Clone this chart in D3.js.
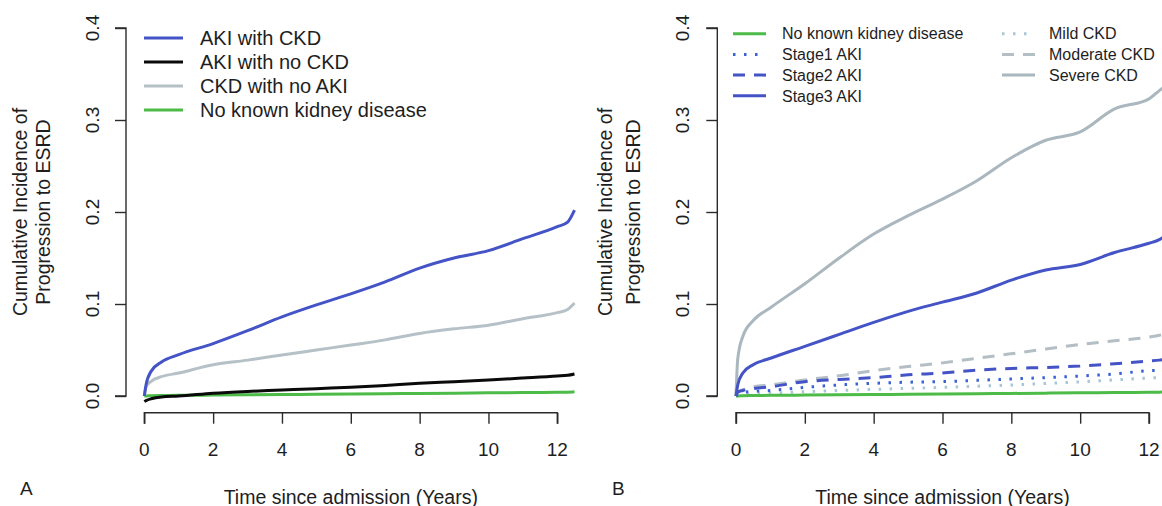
<!DOCTYPE html>
<html>
<head>
<meta charset="utf-8">
<script src="https://cdn.jsdelivr.net/npm/d3@7"></script>
<style>
  html, body { margin: 0; padding: 0; background: #fff; }
  svg { display: block; font-family: "Liberation Sans", Arial, Helvetica, sans-serif; }
</style>
</head>
<body>
<svg id="chart" width="1162" height="506"></svg>
<script>
// ---------- data ----------
const years = [0, 0.05, 0.2, 0.5, 1, 2, 3, 4, 5, 6, 7, 8, 9, 10, 11, 12, 12.3, 12.5];

// Panel A
const akiWithCkd = [0, 0.012, 0.027, 0.037, 0.045, 0.057, 0.071, 0.086, 0.099, 0.111, 0.124, 0.139, 0.150, 0.158, 0.171, 0.184, 0.189, 0.202];
const akiNoCkd   = [-0.006, -0.005, -0.003, -0.001, 0.000, 0.003, 0.005, 0.0065, 0.008, 0.0094, 0.0115, 0.0138, 0.0155, 0.0174, 0.0195, 0.0217, 0.0225, 0.024];
const ckdNoAki   = [0, 0.010, 0.016, 0.021, 0.025, 0.034, 0.039, 0.0446, 0.050, 0.0554, 0.061, 0.068, 0.073, 0.077, 0.084, 0.0906, 0.094, 0.101];
const noKidneyA  = [0, 0, 0.0003, 0.0005, 0.0007, 0.001, 0.0013, 0.0016, 0.0019, 0.0022, 0.0025, 0.0028, 0.0031, 0.0034, 0.0037, 0.004, 0.0042, 0.0045];

// Panel B
const noKidneyB   = [0, 0, 0.0003, 0.0005, 0.0007, 0.001, 0.0013, 0.0016, 0.0019, 0.0022, 0.0025, 0.0028, 0.0031, 0.0034, 0.0037, 0.004, 0.0042, 0.0045];
const stage1Aki   = [0, 0.002, 0.004, 0.005, 0.006, 0.0094, 0.012, 0.0138, 0.015, 0.0156, 0.017, 0.0185, 0.020, 0.0217, 0.024, 0.0275, 0.028, 0.029];
const stage2Aki   = [0, 0.004, 0.006, 0.008, 0.010, 0.0156, 0.018, 0.020, 0.023, 0.025, 0.028, 0.030, 0.031, 0.0326, 0.035, 0.038, 0.039, 0.040];
const stage3Aki   = [0, 0.012, 0.025, 0.034, 0.041, 0.054, 0.067, 0.080, 0.092, 0.102, 0.112, 0.126, 0.137, 0.143, 0.156, 0.166, 0.170, 0.175];
const mildCkd     = [0, 0.001, 0.0015, 0.002, 0.003, 0.0047, 0.006, 0.0072, 0.0083, 0.0094, 0.0107, 0.012, 0.0137, 0.0154, 0.0175, 0.0196, 0.020, 0.021];
const moderateCkd = [0, 0.004, 0.007, 0.010, 0.012, 0.0174, 0.022, 0.0275, 0.032, 0.036, 0.041, 0.046, 0.051, 0.056, 0.060, 0.064, 0.066, 0.068];
const severeCkd   = [0, 0.040, 0.065, 0.082, 0.096, 0.122, 0.150, 0.176, 0.196, 0.214, 0.234, 0.259, 0.278, 0.287, 0.312, 0.323, 0.332, 0.338];

const xTicks = [0, 2, 4, 6, 8, 10, 12];
const yTicks = [0, 0.1, 0.2, 0.3, 0.4];
const yTickLabels = ["0.0", "0.1", "0.2", "0.3", "0.4"];

const seriesA = [
  { name: "No known kidney disease", values: noKidneyA, color: "#4cbb47", dash: null },
  { name: "CKD with no AKI", values: ckdNoAki, color: "#b6c1c7", dash: null },
  { name: "AKI with no CKD", values: akiNoCkd, color: "#0a0a0a", dash: null },
  { name: "AKI with CKD", values: akiWithCkd, color: "#4454c6", dash: null }
];
const legendA = ["AKI with CKD", "AKI with no CKD", "CKD with no AKI", "No known kidney disease"];

const seriesB = [
  { name: "Mild CKD", values: mildCkd, color: "#a9c6d8", dash: "2.5,8.5" },
  { name: "Moderate CKD", values: moderateCkd, color: "#b3bec5", dash: "12,9" },
  { name: "Severe CKD", values: severeCkd, color: "#aab7bf", dash: null },
  { name: "No known kidney disease", values: noKidneyB, color: "#4cbb47", dash: null },
  { name: "Stage1 AKI", values: stage1Aki, color: "#3a62d6", dash: "2.5,8.5" },
  { name: "Stage2 AKI", values: stage2Aki, color: "#4454c6", dash: "12,9" },
  { name: "Stage3 AKI", values: stage3Aki, color: "#4454c6", dash: null }
];
const legendB1 = ["No known kidney disease", "Stage1 AKI", "Stage2 AKI", "Stage3 AKI"];
const legendB2 = ["Mild CKD", "Moderate CKD", "Severe CKD"];

// ---------- drawing ----------
const svg = d3.select("#chart");
const axisColor = "#2b2b2b";
const textColor = "#1e1e1e";

function drawPanel(cfg) {
  const x = d3.scaleLinear().domain([0, 12]).range([cfg.x0, cfg.x12]);
  const y = d3.scaleLinear().domain([0, 0.4]).range([396, 28]);
  const g = svg.append("g");

  // y axis (R style: detached)
  const yAxis = d3.axisLeft(y).tickValues(yTicks).tickSize(11).tickFormat("");
  const ya = g.append("g").attr("transform", `translate(${cfg.yAxisX},0)`).call(yAxis);
  ya.selectAll("path,line").attr("stroke", axisColor).attr("stroke-width", 1.4);
  ya.select("path.domain").attr("d", `M-11,${y(0)}H0V${y(0.4)}H-11`).attr("fill", "none");
  g.selectAll(".ytl").data(yTicks).join("text")
    .attr("transform", (d) => `translate(${cfg.yLabelX},${y(d)}) rotate(-90)`)
    .attr("text-anchor", "middle")
    .attr("font-size", 19)
    .attr("fill", textColor)
    .text((d, i) => yTickLabels[i]);

  // x axis
  const xAxis = d3.axisBottom(x).tickValues(xTicks).tickSize(11).tickFormat("");
  const xa = g.append("g").attr("transform", `translate(0,412.7)`).call(xAxis);
  xa.selectAll("path,line").attr("stroke", axisColor).attr("stroke-width", 1.4);
  xa.select("path.domain").attr("d", `M${x(0)},11V0H${x(12)}V11`).attr("fill", "none");
  g.selectAll(".xtl").data(xTicks).join("text")
    .attr("x", (d) => x(d)).attr("y", 456)
    .attr("text-anchor", "middle")
    .attr("font-size", 19)
    .attr("fill", textColor)
    .text((d) => d);

  // titles
  g.append("text").attr("x", (x(0) + x(12)) / 2).attr("y", 503.5)
    .attr("text-anchor", "middle").attr("font-size", 19.5).attr("fill", textColor)
    .text("Time since admission (Years)");
  g.append("text").attr("transform", `translate(${cfg.yTitleX1},212) rotate(-90)`)
    .attr("text-anchor", "middle").attr("font-size", 19.5).attr("fill", textColor)
    .text("Cumulative Incidence of");
  g.append("text").attr("transform", `translate(${cfg.yTitleX2},212) rotate(-90)`)
    .attr("text-anchor", "middle").attr("font-size", 19.5).attr("fill", textColor)
    .text("Progression to ESRD");
  g.append("text").attr("x", cfg.letterX).attr("y", 495)
    .attr("font-size", 19).attr("fill", textColor).text(cfg.letter);

  // lines
  const line = d3.line().x((d) => x(d[0])).y((d) => y(d[1])).curve(d3.curveMonotoneX);
  cfg.series.forEach((s) => {
    g.append("path")
      .attr("d", line(years.map((t, i) => [t, s.values[i]])))
      .attr("fill", "none")
      .attr("stroke", s.color)
      .attr("stroke-width", 3)
      .attr("stroke-dasharray", s.dash)
      .attr("stroke-linecap", "butt");
  });

  // legends
  cfg.legends.forEach((L) => {
    L.names.forEach((name, i) => {
      const s = cfg.series.find((q) => q.name === name);
      const yy = L.y0 + i * L.dy;
      g.append("line").attr("x1", L.lx1).attr("x2", L.lx2).attr("y1", yy).attr("y2", yy)
        .attr("stroke", s.color).attr("stroke-width", 3)
        .attr("stroke-dasharray", s.dash);
      g.append("text").attr("x", L.tx).attr("y", yy).attr("dy", "0.36em")
        .attr("font-size", L.fs).attr("fill", textColor).text(name);
    });
  });
}

drawPanel({
  x0: 144.3, x12: 557.3, yAxisX: 126, yLabelX: 99,
  yTitleX1: 27, yTitleX2: 50, letter: "A", letterX: 20,
  series: seriesA,
  legends: [{ names: legendA, y0: 38, dy: 24, lx1: 144, lx2: 183, tx: 200, fs: 20 }]
});

drawPanel({
  x0: 736, x12: 1149, yAxisX: 717.3, yLabelX: 689,
  yTitleX1: 612, yTitleX2: 640, letter: "B", letterX: 612,
  series: seriesB,
  legends: [
    { names: legendB1, y0: 33.7, dy: 20.7, lx1: 733, lx2: 766, tx: 782, fs: 16 },
    { names: legendB2, y0: 33.7, dy: 20.7, lx1: 1002, lx2: 1035, tx: 1049, fs: 16 }
  ]
});
</script>
</body>
</html>
